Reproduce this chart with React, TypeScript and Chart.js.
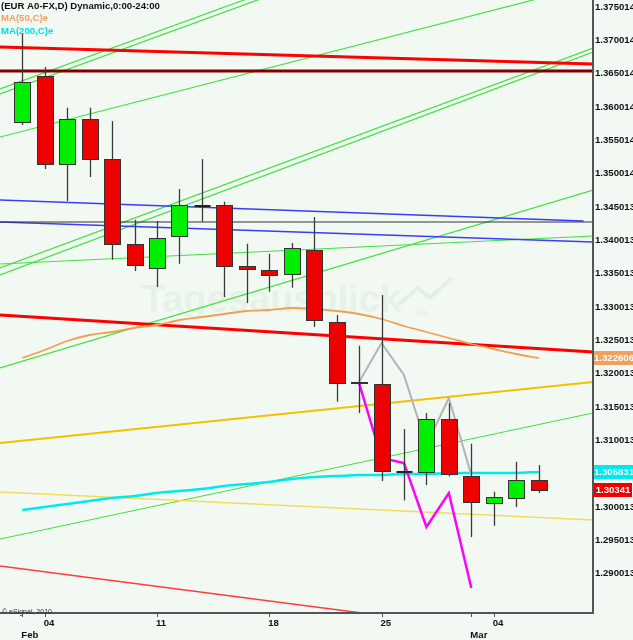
import React, { useEffect, useRef } from 'react';
import { Chart, registerables } from 'chart.js';
Chart.register(...registerables);

// ---- data ----
const dates = ['2013-02-01','2013-02-04','2013-02-05','2013-02-06','2013-02-07','2013-02-08','2013-02-11','2013-02-12','2013-02-13','2013-02-14','2013-02-15','2013-02-18','2013-02-19','2013-02-20','2013-02-21','2013-02-22','2013-02-25','2013-02-26','2013-02-27','2013-02-28','2013-03-01','2013-03-04','2013-03-05','2013-03-06'];
const opens  = [1.3578,1.3647,1.3515,1.3582,1.3522,1.3395,1.3359,1.3407,1.3452,1.3453,1.3362,1.3356,1.3350,1.3386,1.3278,1.3186,1.3185,1.3053,1.3053,1.3132,1.3047,1.3006,1.3014,1.3041];
const highs  = [1.3711,1.3660,1.3599,1.3599,1.3579,1.3431,1.3429,1.3477,1.3522,1.3458,1.3395,1.3380,1.3396,1.3435,1.3288,1.3242,1.3318,1.3117,1.3141,1.3156,1.3095,1.3023,1.3068,1.3063];
const lows   = [1.3573,1.3507,1.3459,1.3495,1.3371,1.3354,1.3330,1.3365,1.3428,1.3315,1.3306,1.3323,1.3329,1.3270,1.3158,1.3141,1.3039,1.3010,1.3033,1.3046,1.2955,1.2972,1.3000,1.3021];
const closes = [1.3638,1.3515,1.3582,1.3522,1.3395,1.3363,1.3404,1.3453,1.3452,1.3362,1.3357,1.3348,1.3389,1.3281,1.3186,1.3187,1.3054,1.3053,1.3132,1.3050,1.3008,1.3015,1.3041,1.3026];
const ma50  = [1.32236,1.32356,1.32491,1.32581,1.32626,1.32686,1.32731,1.32806,1.32851,1.32896,1.32941,1.32956,1.32986,1.32971,1.32941,1.32896,1.32821,1.32716,1.32626,1.32536,1.32446,1.32371,1.32296,1.32236];
const ma200 = [1.29956,1.30001,1.30046,1.30091,1.30136,1.30166,1.30211,1.30241,1.30271,1.30316,1.30346,1.30376,1.30421,1.30451,1.30466,1.30481,1.30481,1.30496,1.30496,1.30511,1.30511,1.30511,1.30511,1.30526];
const projIdx = [15,16,17,18,19,20];
const grayProj = [1.31876,1.32461,1.31981,1.30931,1.31636,1.30481];
const magentaProj = [1.31861,1.30736,1.30661,1.29701,1.30211,1.28786];

// trendlines: [x0, v0, x1, v1]
const redUpper   = [-0.993, 1.36901, 25.42, 1.36646];
const maroonLine = [-0.993, 1.36541, 25.42, 1.36541];
const greenA = [-0.993, 1.36271, 25.42, 1.39517];
const greenB = [-0.993, 1.36196, 25.42, 1.39442];
const greenC = [-0.993, 1.35551, 25.42, 1.37837];
const greenD = [-0.993, 1.33586, 25.42, 1.36886];
const greenE = [-0.993, 1.33481, 25.42, 1.36826];
const greenF = [-0.993, 1.33646, 25.42, 1.34066];
const greenG = [-0.993, 1.32086, 25.42, 1.34756];
const greenH = [-0.993, 1.29521, 25.42, 1.31411];
const blue1  = [-0.993, 1.34606, 25.0, 1.34291];
const blue2  = [-0.993, 1.34276, 25.42, 1.33976];
const blackLine = [-0.993, 1.34276, 25.42, 1.34276];
const redLower  = [-0.993, 1.32881, 25.42, 1.32326];
const goldLine  = [-0.993, 1.30961, 25.42, 1.31876];
const paleYellow = [-0.993, 1.30226, 25.42, 1.29806];
const redThin   = [-0.993, 1.29116, 25.42, 1.27961];

const yTickValues = [1.375014,1.370014,1.365014,1.360014,1.355014,1.350014,1.345013,1.340013,1.335013,1.330013,1.325013,1.320013,1.315013,1.310013,1.305013,1.300013,1.295013,1.290013];
const xTickIdx = [1,6,11,16,21];
const xTickLabels = ['04','11','18','25','04'];
const monthIdx = [0,20];
const monthLabels = ['Feb','Mar'];
const lastLabels = ['1.322606','1.305831','1.30341'];
const xMin = -0.993, xMax = 25.42, yMin = 1.28411, yMax = 1.37606;

const seg = (a: number[]) => [{ x: a[0], y: a[1] }, { x: a[2], y: a[3] }];
const series = (idx: number[], vals: number[]) => vals.map((v, k) => ({ x: idx[k], y: v }));
const allIdx = dates.map((_, i) => i);

const FONT = '"Liberation Sans", Arial, sans-serif';

const chartPlugin = {
  id: 'esig',
  beforeDraw(chart: any) {
    const ctx = chart.ctx;
    ctx.save();
    ctx.fillStyle = '#f2f9f2';
    ctx.fillRect(0, 0, chart.width, chart.height);
    // watermark
    ctx.fillStyle = 'rgba(175,205,175,0.16)';
    ctx.font = 'bold 38px ' + FONT;
    ctx.textBaseline = 'middle';
    ctx.fillText('Tagesausblick', 142, 302);
    ctx.font = 'bold 11px ' + FONT;
    ctx.fillText('.de', 412, 313);
    ctx.strokeStyle = 'rgba(175,205,175,0.22)';
    ctx.lineWidth = 4;
    ctx.beginPath();
    ctx.moveTo(398, 305); ctx.lineTo(418, 288); ctx.lineTo(430, 298); ctx.lineTo(452, 278);
    ctx.stroke();
    ctx.restore();
  },
  afterDatasetsDraw(chart: any) {
    const ctx = chart.ctx;
    const xs = chart.scales.x, ys = chart.scales.y;
    const a = chart.chartArea;
    ctx.save();
    ctx.beginPath();
    ctx.rect(a.left, a.top, a.right - a.left, a.bottom - a.top);
    ctx.clip();
    const slot = xs.getPixelForValue(1) - xs.getPixelForValue(0);
    const half = Math.round(slot * 0.335);
    for (let i = 0; i < dates.length; i++) {
      const cx = Math.round(xs.getPixelForValue(i)) + 0.5;
      const yo = ys.getPixelForValue(opens[i]);
      const yc = ys.getPixelForValue(closes[i]);
      const yh = ys.getPixelForValue(highs[i]);
      const yl = ys.getPixelForValue(lows[i]);
      ctx.strokeStyle = '#3a3a3a';
      ctx.lineWidth = 1.3;
      ctx.beginPath();
      ctx.moveTo(cx, yh); ctx.lineTo(cx, yl);
      ctx.stroke();
      const top = Math.round(Math.min(yo, yc)), bot = Math.round(Math.max(yo, yc));
      if (bot - top < 1) {
        ctx.strokeStyle = '#222';
        ctx.lineWidth = 2;
        ctx.beginPath();
        ctx.moveTo(cx - half, top); ctx.lineTo(cx + half, top);
        ctx.stroke();
      } else {
        ctx.fillStyle = closes[i] > opens[i] ? '#00ee00' : '#ee0000';
        ctx.fillRect(cx - half, top, half * 2, bot - top);
        ctx.strokeStyle = '#333';
        ctx.lineWidth = 1;
        ctx.strokeRect(cx - half, top + 0.5, half * 2, bot - top);
      }
    }
    ctx.restore();
  },
  afterDraw(chart: any) {
    const ctx = chart.ctx;
    const xs = chart.scales.x, ys = chart.scales.y;
    const a = chart.chartArea;
    ctx.save();
    // frame
    ctx.strokeStyle = '#555';
    ctx.lineWidth = 2;
    ctx.beginPath();
    ctx.moveTo(a.right, 0); ctx.lineTo(a.right, a.bottom);
    ctx.lineTo(0, a.bottom);
    ctx.stroke();
    // x ticks marks
    ctx.lineWidth = 1;
    ctx.strokeStyle = '#555';
    [...xTickIdx, ...monthIdx].forEach((i) => {
      const x = Math.round(xs.getPixelForValue(i)) + 0.5;
      ctx.beginPath(); ctx.moveTo(x, a.bottom + 1); ctx.lineTo(x, a.bottom + 4); ctx.stroke();
    });
    // y labels
    ctx.fillStyle = '#111';
    ctx.font = 'bold 9.6px ' + FONT;
    ctx.textBaseline = 'middle';
    ctx.textAlign = 'left';
    yTickValues.forEach((v) => {
      ctx.fillText(v.toFixed(6), a.right + 2, ys.getPixelForValue(v));
    });
    // x labels
    xTickIdx.forEach((i, k) => {
      ctx.fillText(xTickLabels[k], xs.getPixelForValue(i) - 1, a.bottom + 10);
    });
    monthIdx.forEach((i, k) => {
      ctx.fillText(monthLabels[k], xs.getPixelForValue(i) - 1, a.bottom + 22);
    });
    // last value boxes
    const boxes = [
      { v: ma50[ma50.length - 1], bg: '#f0a060', t: lastLabels[0], w: 40 },
      { v: ma200[ma200.length - 1], bg: '#00e8f0', t: lastLabels[1], w: 40 },
      { v: closes[closes.length - 1], bg: '#ee0000', t: lastLabels[2], w: 38 },
    ];
    boxes.forEach((b) => {
      const y = Math.round(ys.getPixelForValue(b.v));
      ctx.fillStyle = b.bg;
      ctx.fillRect(a.right + 1, y - 7, b.w, 14);
      ctx.fillStyle = '#ffffff';
      ctx.textAlign = 'center';
      ctx.fillText(b.t, a.right + 1 + b.w / 2, y + 0.5);
    });
    ctx.textAlign = 'left';
    // header
    ctx.font = 'bold 9.6px ' + FONT;
    ctx.fillStyle = '#111';
    ctx.fillText('(EUR A0-FX,D) Dynamic,0:00-24:00', 1, 6);
    ctx.fillStyle = '#f0a060';
    ctx.fillText('MA(50,C)e', 1, 18);
    ctx.fillStyle = '#00dcec';
    ctx.fillText('MA(200,C)e', 1, 31);
    // copyright
    ctx.fillStyle = '#333';
    ctx.font = '7px ' + FONT;
    ctx.fillText('\u00a9 eSignal, 2010', 2, a.bottom - 1);
    ctx.restore();
  },
};

export default function App() {
  const ref = useRef<HTMLCanvasElement | null>(null);
  useEffect(() => {
    if (!ref.current) return;
    const L = (data: any[], color: string, width: number, extra: any = {}) => ({
      type: 'line', data, borderColor: color, borderWidth: width, pointRadius: 0, fill: false, tension: 0, ...extra,
    });
    const chart = new Chart(ref.current, {
      type: 'line',
      data: {
        datasets: [
          L(series(projIdx, magentaProj), '#ff00ff', 2.5),
          L(series(projIdx, grayProj), '#b4b4b4', 2),
          L(series(allIdx, ma200), '#00e8f0', 2.5, { tension: 0.3 }),
          L(series(allIdx, ma50), '#f0a050', 1.8, { tension: 0.3 }),
          L(seg(redUpper), '#ff0000', 3),
          L(seg(redLower), '#ff0000', 3),
          L(seg(maroonLine), '#800000', 3),
          L(seg(redThin), '#ff3c3c', 1.5),
          L(seg(goldLine), '#f2c200', 2),
          L(seg(paleYellow), '#f0dc60', 1.5),
          L(seg(blackLine), '#333333', 1),
          L(seg(blue1), '#3c3cff', 1.5),
          L(seg(blue2), '#3c3cff', 1.5),
          L(seg(greenA), '#44e044', 1.2),
          L(seg(greenB), '#44e044', 1.2),
          L(seg(greenC), '#44e044', 1.2),
          L(seg(greenD), '#44e044', 1.2),
          L(seg(greenE), '#44e044', 1.2),
          L(seg(greenF), '#44e044', 1.2),
          L(seg(greenG), '#44e044', 1.2),
          L(seg(greenH), '#44e044', 1.2),
        ] as any,
      },
      options: {
        animation: false,
        responsive: false,
        maintainAspectRatio: false,
        parsing: true,
        layout: { padding: { left: 0, right: 40, top: 0, bottom: 27 } },
        scales: {
          x: { type: 'linear', min: xMin, max: xMax, display: false },
          y: { type: 'linear', min: yMin, max: yMax, display: false },
        },
        plugins: { legend: { display: false }, tooltip: { enabled: false } },
      } as any,
      plugins: [chartPlugin],
    });
    return () => chart.destroy();
  }, []);
  return (
    <div style={{ position: 'fixed', left: 0, top: 0, width: 633, height: 640, background: '#f2f9f2' }}>
      <canvas ref={ref} width={633} height={640} style={{ display: 'block', width: 633, height: 640 }} />
    </div>
  );
}
